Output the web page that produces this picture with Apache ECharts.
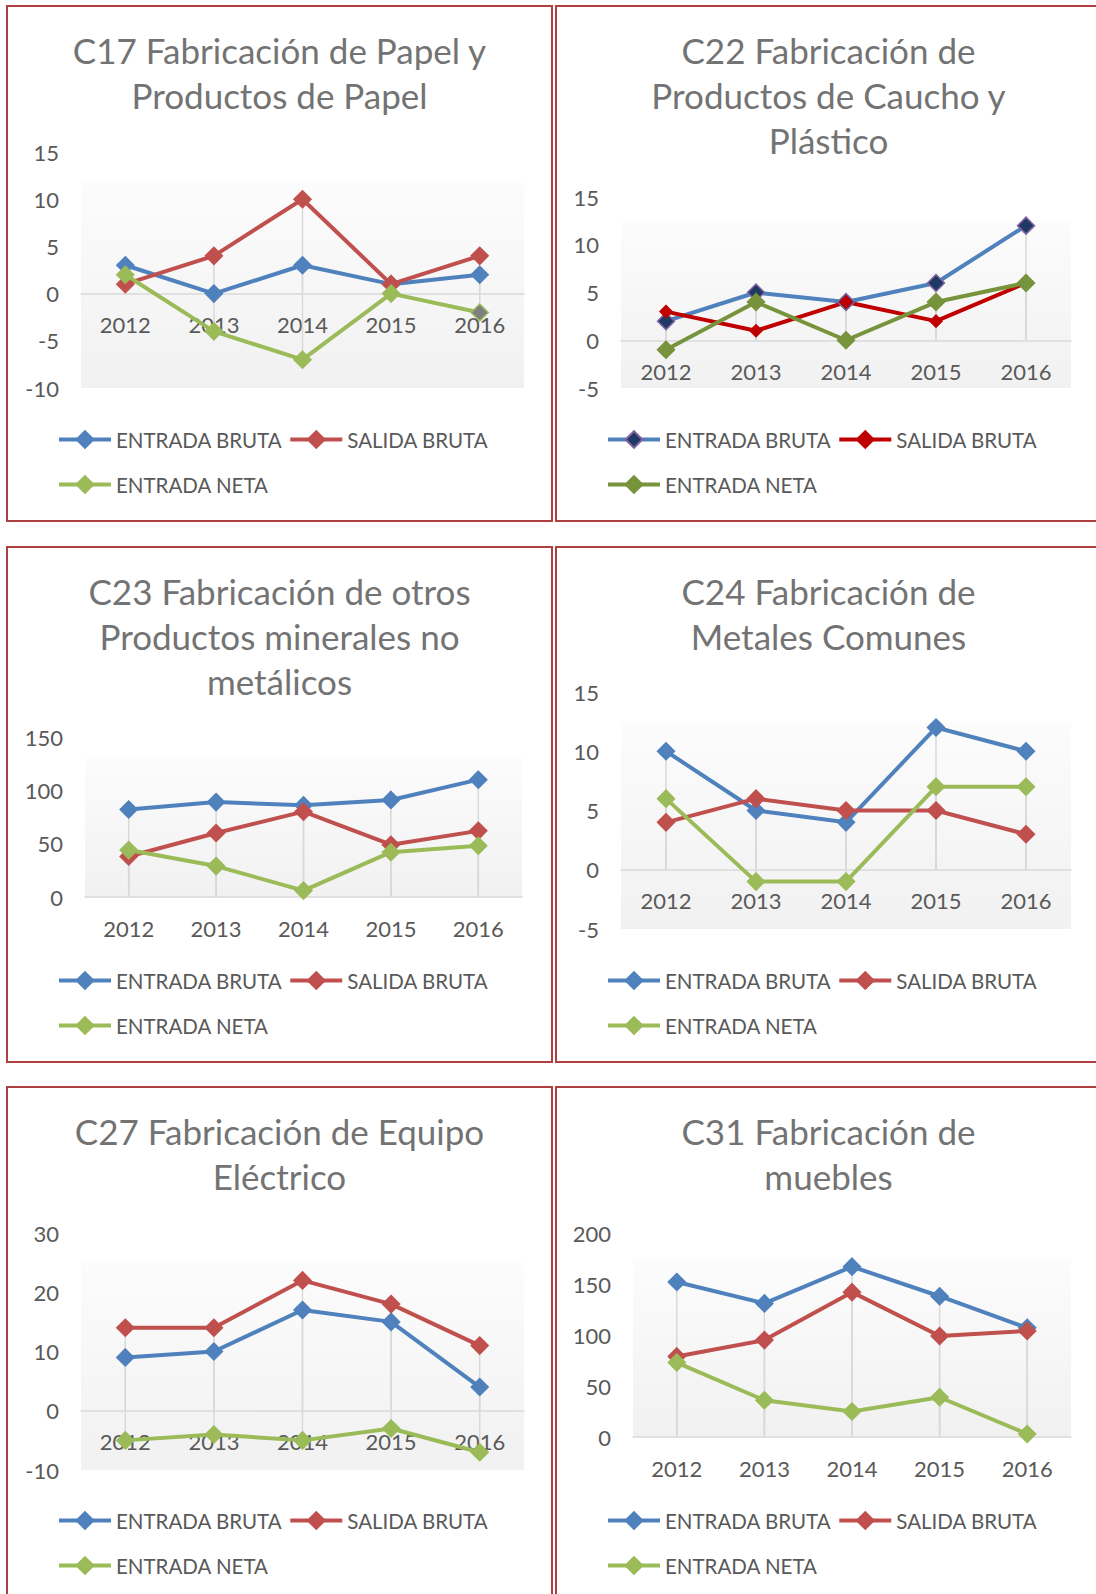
<!DOCTYPE html>
<html>
<head>
<meta charset="utf-8">
<title>Entrada y salida bruta por actividad</title>
<script src="https://cdn.jsdelivr.net/npm/echarts@6/dist/echarts.min.js"></script>
<style>
    html, body { margin: 0; padding: 0; background: #fff; }
    body { position: relative; width: 1096px; height: 1594px; overflow: hidden; }
    .panel { position: absolute; box-sizing: border-box; border: 2px solid #b0403f; }
    .chart { position: absolute; }
</style>
</head>
<body>
<script>
// categorias
const years = ['2012', '2013', '2014', '2015', '2016'];
const seriesNames = ['ENTRADA BRUTA', 'SALIDA BRUTA', 'ENTRADA NETA'];

// C17 papel
const c17EntradaBruta = [3, 0, 3, 1, 2];
const c17SalidaBruta = [1, 4, 10, 1, 4];
const c17EntradaNeta = [2, -4, -7, 0, -2];
const c17Ticks = [-10, 15, 5];

// C22 caucho y plastico
const c22EntradaBruta = [2, 5, 4, 6, 12];
const c22SalidaBruta = [3, 1, 4, 2, 6];
const c22EntradaNeta = [-1, 4, 0, 4, 6];
const c22Ticks = [-5, 15, 5];

// C23 minerales no metalicos
const c23EntradaBruta = [82, 89, 86, 91, 110];
const c23SalidaBruta = [38, 60, 80, 49, 62];
const c23EntradaNeta = [44, 29, 6, 42, 48];
const c23Ticks = [0, 150, 50];

// C24 metales comunes
const c24EntradaBruta = [10, 5, 4, 12, 10];
const c24SalidaBruta = [4, 6, 5, 5, 3];
const c24EntradaNeta = [6, -1, -1, 7, 7];
const c24Ticks = [-5, 15, 5];

// C27 equipo electrico
const c27EntradaBruta = [9, 10, 17, 15, 4];
const c27SalidaBruta = [14, 14, 22, 18, 11];
const c27EntradaNeta = [-5, -4, -5, -3, -7];
const c27Ticks = [-10, 30, 10];

// C31 muebles
const c31EntradaBruta = [152, 131, 167, 138, 107];
const c31SalidaBruta = [79, 95, 142, 99, 104];
const c31EntradaNeta = [73, 36, 25, 39, 3];
const c31Ticks = [0, 200, 50];

const FONT = 'Lato, "Open Sans", sans-serif';
const TEXT_COLOR = '#595959';
const TITLE_COLOR = '#737373';
const colX = [7, 556];
const rowY = [6, 547, 1087];

const excelStyle = [
    { line: '#4F81BD' },
    { line: '#C0504D' },
    { line: '#9BBB59' }
];
const cauchoStyle = [
    { line: '#4F81BD', fill: '#1F3864', border: '#8064A2' },
    { line: '#C00000', size: 12 },
    { line: '#77933C' }
];

const panels = [
    { col: 0, row: 0, title: 'C17 Fabricación de Papel y\nProductos de Papel',
      data: [c17EntradaBruta, c17SalidaBruta, c17EntradaNeta], ticks: c17Ticks, style: excelStyle,
      grid: { left: 74, top: 146, width: 443, height: 236 }, grayPoint: 4 },
    { col: 1, row: 0, title: 'C22 Fabricación de\nProductos de Caucho y\nPlástico',
      data: [c22EntradaBruta, c22SalidaBruta, c22EntradaNeta], ticks: c22Ticks, style: cauchoStyle,
      grid: { left: 65, top: 191, width: 450, height: 191 } },
    { col: 0, row: 1, title: 'C23 Fabricación de otros\nProductos minerales no\nmetálicos',
      data: [c23EntradaBruta, c23SalidaBruta, c23EntradaNeta], ticks: c23Ticks, style: excelStyle,
      grid: { left: 78, top: 190, width: 437, height: 160 } },
    { col: 1, row: 1, title: 'C24 Fabricación de\nMetales Comunes',
      data: [c24EntradaBruta, c24SalidaBruta, c24EntradaNeta], ticks: c24Ticks, style: excelStyle,
      grid: { left: 65, top: 145, width: 450, height: 237 } },
    { col: 0, row: 2, title: 'C27 Fabricación de Equipo\nEléctrico',
      data: [c27EntradaBruta, c27SalidaBruta, c27EntradaNeta], ticks: c27Ticks, style: excelStyle,
      grid: { left: 74, top: 146, width: 443, height: 237 } },
    { col: 1, row: 2, title: 'C31 Fabricación de\nmuebles',
      data: [c31EntradaBruta, c31SalidaBruta, c31EntradaNeta], ticks: c31Ticks, style: excelStyle,
      grid: { left: 77, top: 146, width: 438, height: 204 } }
];

function lineSeries(name, values, st, grayPoint) {
    const data = values.map((v, i) => i === grayPoint
        ? { value: v, itemStyle: { color: '#7F7F7F', borderColor: st.line } }
        : v);
    return {
        name: name,
        type: 'line',
        data: data,
        symbol: 'diamond',
        symbolSize: st.size || 17,
        lineStyle: { color: st.line, width: 4 },
        itemStyle: { color: st.fill || st.line, borderColor: st.border || st.line, borderWidth: 1.5 },
        emphasis: { disabled: true },
        z: 3
    };
}

// lineas de proyeccion grises hasta el eje
function dropSeries(values) {
    return {
        type: 'bar',
        data: values,
        barWidth: 1.5,
        barGap: '-100%',
        itemStyle: { color: '#d9d9d9' },
        silent: true,
        z: 1
    };
}

function legendRow(names, top) {
    return {
        data: names,
        left: 50,
        top: top,
        padding: 0,
        itemWidth: 52,
        itemHeight: 21,
        itemGap: 6,
        selectedMode: false,
        lineStyle: { width: 4 },
        textStyle: { color: TEXT_COLOR, fontSize: 20.5, fontFamily: FONT }
    };
}

panels.forEach((p) => {
    const box = document.createElement('div');
    box.className = 'panel';
    box.style.left = (colX[p.col] - 1) + 'px';
    box.style.top = (rowY[p.row] - 1) + 'px';
    box.style.width = '547px';
    box.style.height = '517px';
    document.body.appendChild(box);

    const el = document.createElement('div');
    el.className = 'chart';
    el.style.left = colX[p.col] + 'px';
    el.style.top = rowY[p.row] + 'px';
    el.style.width = '545px';
    el.style.height = '515px';
    document.body.appendChild(el);

    const chart = echarts.init(el, null, { renderer: 'svg' });
    const series = [];
    p.data.forEach((values) => series.push(dropSeries(values)));
    p.data.forEach((values, i) => series.push(lineSeries(seriesNames[i], values, p.style[i], i === 2 ? p.grayPoint : -1)));

    // el eje de categorias (con sus etiquetas) va sobre la linea del cero
    const [yMin, yMax, yStep] = p.ticks;
    const zeroOffset = p.grid.height * (0 - yMin) / (yMax - yMin);

    chart.setOption({
        animation: false,
        title: {
            text: p.title,
            left: 'center',
            top: 16,
            textStyle: { color: TITLE_COLOR, fontSize: 35, fontWeight: 'normal', fontFamily: FONT, lineHeight: 45 }
        },
        legend: [legendRow(seriesNames.slice(0, 2), 423), legendRow(seriesNames.slice(2), 468)],
        grid: Object.assign({
            show: true,
            borderWidth: 0,
            outerBoundsMode: 'none',
            backgroundColor: new echarts.graphic.LinearGradient(0, 0, 0, 1, [
                { offset: 0, color: '#ffffff' },
                { offset: 0.12, color: '#ffffff' },
                { offset: 0.13, color: '#fcfcfc' },
                { offset: 1, color: '#f1f1f1' }
            ])
        }, p.grid),
        xAxis: {
            type: 'category',
            data: years,
            position: 'bottom',
            offset: -zeroOffset,
            axisLine: { onZero: false, lineStyle: { color: '#d9d9d9', width: 1.5 } },
            axisTick: { show: false },
            axisLabel: { interval: 0, margin: 20, color: TEXT_COLOR, fontSize: 22, fontFamily: FONT },
            splitLine: { show: false }
        },
        yAxis: {
            type: 'value',
            min: yMin,
            max: yMax,
            interval: yStep,
            axisLine: { show: false },
            axisTick: { show: false },
            splitLine: { show: false },
            axisLabel: { margin: 22, color: TEXT_COLOR, fontSize: 22, fontFamily: FONT }
        },
        series: series
    });
});
</script>
</body>
</html>
